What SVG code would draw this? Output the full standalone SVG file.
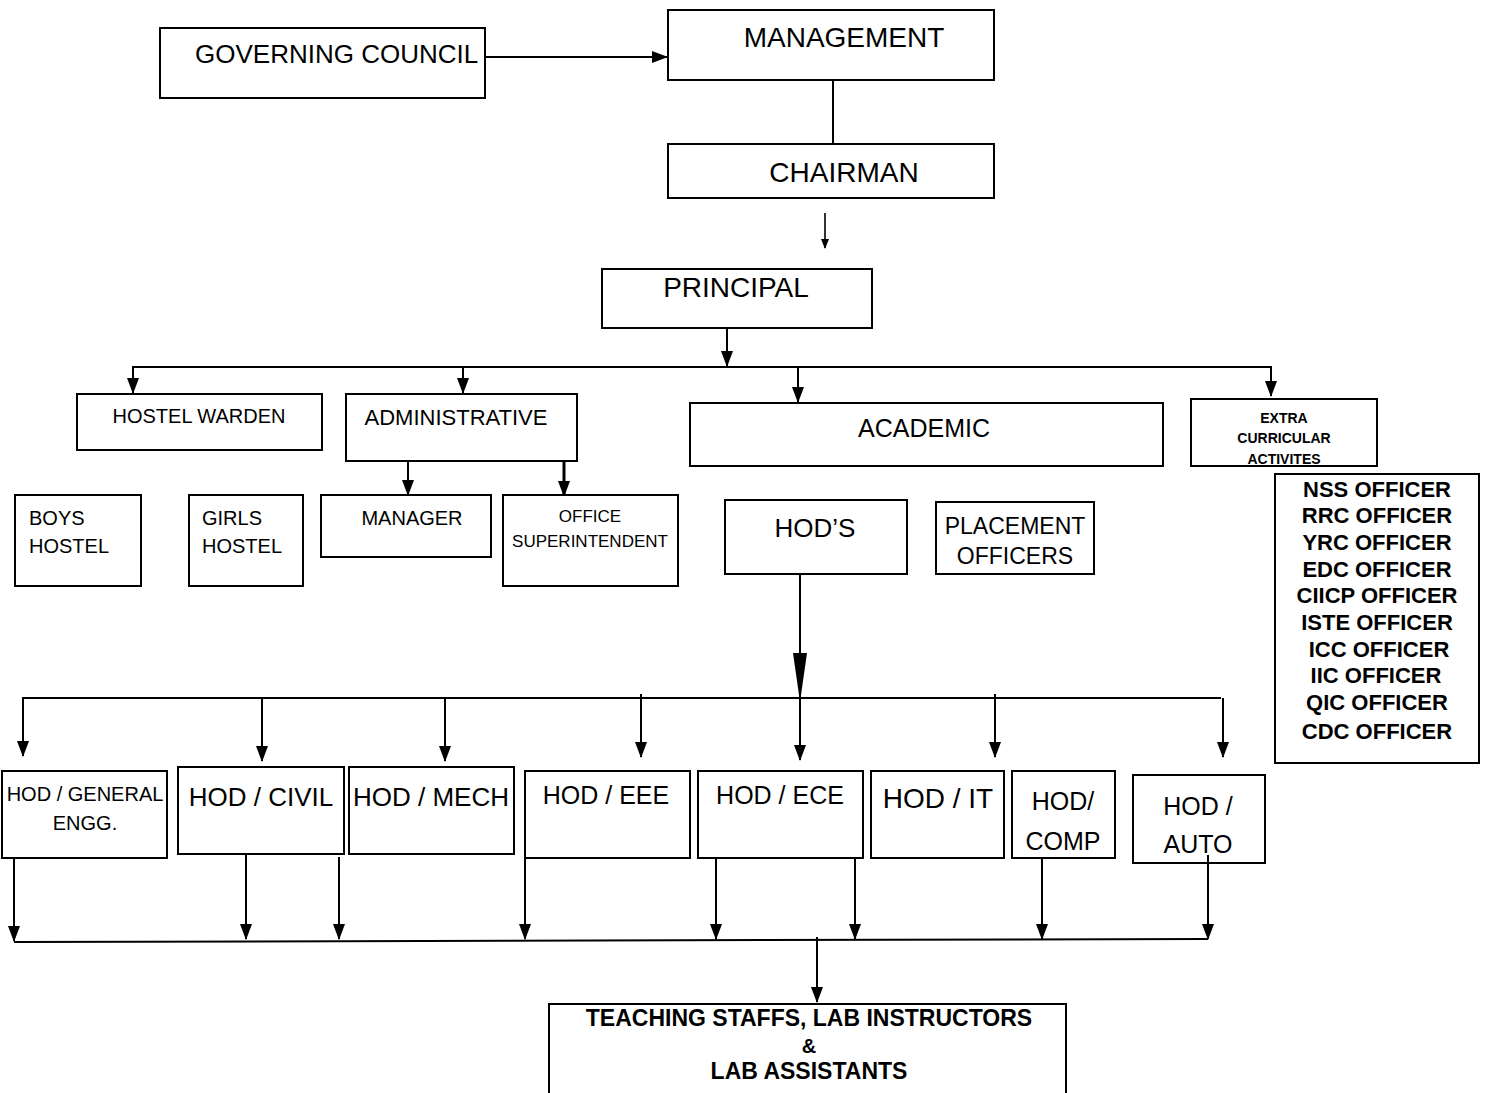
<svg xmlns="http://www.w3.org/2000/svg" width="1486" height="1093" viewBox="0 0 1486 1093">
<style>
  rect { fill: #fff; stroke: #000; stroke-width: 2; }
  text { font-family: "Liberation Sans", Arial, sans-serif; fill: #000; }
  .c { text-anchor: middle; }
  .b { font-weight: bold; }
  .ln { stroke: #000; stroke-width: 2; fill: none; }
</style>
<defs>
  <marker id="ah" markerUnits="userSpaceOnUse" markerWidth="16" markerHeight="12" refX="15" refY="6" orient="auto">
    <path d="M0,0 L16,6 L0,12 z" fill="#000"/>
  </marker>
  <marker id="ahs" markerUnits="userSpaceOnUse" markerWidth="10" markerHeight="8" refX="9" refY="4" orient="auto">
    <path d="M0,0 L10,4 L0,8 z" fill="#000"/>
  </marker>
</defs>

<g id="connectors">
  <line class="ln" x1="486" y1="57" x2="667" y2="57" marker-end="url(#ah)"/>
  <line class="ln" x1="833" y1="80" x2="833" y2="144"/>
  <line class="ln" x1="825" y1="213" x2="825" y2="248" style="stroke-width:1.6" marker-end="url(#ahs)"/>
  <line class="ln" x1="727" y1="328" x2="727" y2="366" marker-end="url(#ah)"/>
  <line class="ln" x1="133" y1="367" x2="1271" y2="367"/>
  <line class="ln" x1="133" y1="366" x2="133" y2="393" marker-end="url(#ah)"/>
  <line class="ln" x1="463" y1="366" x2="463" y2="393" marker-end="url(#ah)"/>
  <line class="ln" x1="798" y1="366" x2="798" y2="402" marker-end="url(#ah)"/>
  <line class="ln" x1="1271" y1="366" x2="1271" y2="396" marker-end="url(#ah)"/>
  <line class="ln" x1="408" y1="461" x2="408" y2="495" marker-end="url(#ah)"/>
  <line class="ln" x1="564" y1="461" x2="564" y2="496" style="stroke-width:3" marker-end="url(#ah)"/>
  <line class="ln" x1="800" y1="574" x2="800" y2="760" marker-end="url(#ah)"/>
  <polygon points="793,653 807,653 800,702" fill="#000"/>
  <line class="ln" x1="23" y1="698" x2="1221" y2="698"/>
  <line class="ln" x1="23" y1="697" x2="23" y2="756" marker-end="url(#ah)"/>
  <line class="ln" x1="262" y1="697" x2="262" y2="761" marker-end="url(#ah)"/>
  <line class="ln" x1="445" y1="697" x2="445" y2="761" marker-end="url(#ah)"/>
  <line class="ln" x1="641" y1="694" x2="641" y2="757" marker-end="url(#ah)"/>
  <line class="ln" x1="995" y1="694" x2="995" y2="757" marker-end="url(#ah)"/>
  <line class="ln" x1="1223" y1="698" x2="1223" y2="757" marker-end="url(#ah)"/>
  <line class="ln" x1="14" y1="858" x2="14" y2="941" marker-end="url(#ah)"/>
  <line class="ln" x1="246" y1="854" x2="246" y2="939" marker-end="url(#ah)"/>
  <line class="ln" x1="339" y1="857" x2="339" y2="939" marker-end="url(#ah)"/>
  <line class="ln" x1="525" y1="858" x2="525" y2="939" marker-end="url(#ah)"/>
  <line class="ln" x1="716" y1="858" x2="716" y2="939" marker-end="url(#ah)"/>
  <line class="ln" x1="855" y1="858" x2="855" y2="939" marker-end="url(#ah)"/>
  <line class="ln" x1="1042" y1="858" x2="1042" y2="939" marker-end="url(#ah)"/>
  <line class="ln" x1="1208" y1="855" x2="1208" y2="939" marker-end="url(#ah)"/>
  <line class="ln" x1="14" y1="942" x2="1208" y2="939"/>
  <line class="ln" x1="817" y1="937" x2="817" y2="1002" marker-end="url(#ah)"/>
</g>

<g id="governing-council"><rect x="160" y="28" width="325" height="70"/><text x="195" y="63" font-size="26">GOVERNING COUNCIL</text></g>
<g id="management"><rect x="668" y="10" width="326" height="70"/><text x="844" y="47" font-size="28" class="c">MANAGEMENT</text></g>
<g id="chairman"><rect x="668" y="144" width="326" height="54"/><text x="844" y="182" font-size="28" class="c">CHAIRMAN</text></g>
<g id="principal"><rect x="602" y="269" width="270" height="59"/><text x="736" y="297" font-size="28" class="c">PRINCIPAL</text></g>

<g id="hostel-warden"><rect x="77" y="394" width="245" height="56"/><text x="199" y="423" font-size="20" class="c">HOSTEL WARDEN</text></g>
<g id="administrative"><rect x="346" y="394" width="231" height="67"/><text x="456" y="425" font-size="22" class="c">ADMINISTRATIVE</text></g>
<g id="academic"><rect x="690" y="403" width="473" height="63"/><text x="924" y="437" font-size="25" class="c">ACADEMIC</text></g>
<g id="extra-curricular"><rect x="1191" y="399" width="186" height="67"/>
  <text x="1284" y="423" font-size="14" class="c b">EXTRA</text>
  <text x="1284" y="443" font-size="14" class="c b">CURRICULAR</text>
  <text x="1284" y="464" font-size="14" class="c b">ACTIVITES</text>
</g>
<g id="officers"><rect x="1275" y="474" width="204" height="289"/>
  <text x="1377" y="497" font-size="22" class="c b">NSS OFFICER</text>
  <text x="1377" y="523" font-size="22" class="c b">RRC OFFICER</text>
  <text x="1377" y="550" font-size="22" class="c b">YRC OFFICER</text>
  <text x="1377" y="577" font-size="22" class="c b">EDC OFFICER</text>
  <text x="1377" y="603" font-size="22" class="c b">CIICP OFFICER</text>
  <text x="1377" y="630" font-size="22" class="c b">ISTE OFFICER</text>
  <text x="1379" y="657" font-size="22" class="c b">ICC OFFICER</text>
  <text x="1376" y="683" font-size="22" class="c b">IIC OFFICER</text>
  <text x="1377" y="710" font-size="22" class="c b">QIC OFFICER</text>
  <text x="1377" y="739" font-size="22" class="c b">CDC OFFICER</text>
</g>

<g id="boys-hostel"><rect x="15" y="495" width="126" height="91"/><text x="29" y="525" font-size="20">BOYS</text><text x="29" y="553" font-size="20">HOSTEL</text></g>
<g id="girls-hostel"><rect x="189" y="495" width="114" height="91"/><text x="202" y="525" font-size="20">GIRLS</text><text x="202" y="553" font-size="20">HOSTEL</text></g>
<g id="manager"><rect x="321" y="495" width="170" height="62"/><text x="412" y="525" font-size="20" class="c">MANAGER</text></g>
<g id="office-superintendent"><rect x="503" y="495" width="175" height="91"/><text x="590" y="522" font-size="17" class="c">OFFICE</text><text x="590" y="547" font-size="17" class="c">SUPERINTENDENT</text></g>
<g id="hods"><rect x="725" y="500" width="182" height="74"/><text x="815" y="537" font-size="26" class="c">HOD’S</text></g>
<g id="placement-officers"><rect x="936" y="502" width="158" height="72"/><text x="1015" y="534" font-size="23" class="c">PLACEMENT</text><text x="1015" y="564" font-size="23" class="c">OFFICERS</text></g>

<g id="hod-general"><rect x="2" y="771" width="165" height="87"/><text x="85" y="801" font-size="20" class="c">HOD / GENERAL</text><text x="85" y="830" font-size="20" class="c">ENGG.</text></g>
<g id="hod-civil"><rect x="178" y="767" width="166" height="87"/><text x="261" y="806" font-size="26" class="c">HOD / CIVIL</text></g>
<g id="hod-mech"><rect x="349" y="767" width="165" height="87"/><text x="431" y="806" font-size="26" class="c">HOD / MECH</text></g>
<g id="hod-eee"><rect x="525" y="771" width="165" height="87"/><text x="606" y="804" font-size="25" class="c">HOD / EEE</text></g>
<g id="hod-ece"><rect x="698" y="771" width="165" height="87"/><text x="780" y="804" font-size="25" class="c">HOD / ECE</text></g>
<g id="hod-it"><rect x="871" y="771" width="133" height="87"/><text x="938" y="808" font-size="28" class="c">HOD / IT</text></g>
<g id="hod-comp"><rect x="1012" y="771" width="103" height="87"/><text x="1063" y="810" font-size="25" class="c">HOD/</text><text x="1063" y="850" font-size="25" class="c">COMP</text></g>
<g id="hod-auto"><rect x="1133" y="775" width="132" height="88"/><text x="1198" y="815" font-size="25" class="c">HOD /</text><text x="1198" y="853" font-size="25" class="c">AUTO</text></g>
<line class="ln" x1="1208" y1="855" x2="1208" y2="863"/>

<g id="teaching-staffs"><rect x="549" y="1004" width="517" height="100"/>
  <text x="809" y="1026" font-size="23" class="c b">TEACHING STAFFS, LAB INSTRUCTORS</text>
  <text x="809" y="1053" font-size="20" class="c b">&amp;</text>
  <text x="809" y="1079" font-size="23" class="c b">LAB ASSISTANTS</text>
</g>
</svg>
